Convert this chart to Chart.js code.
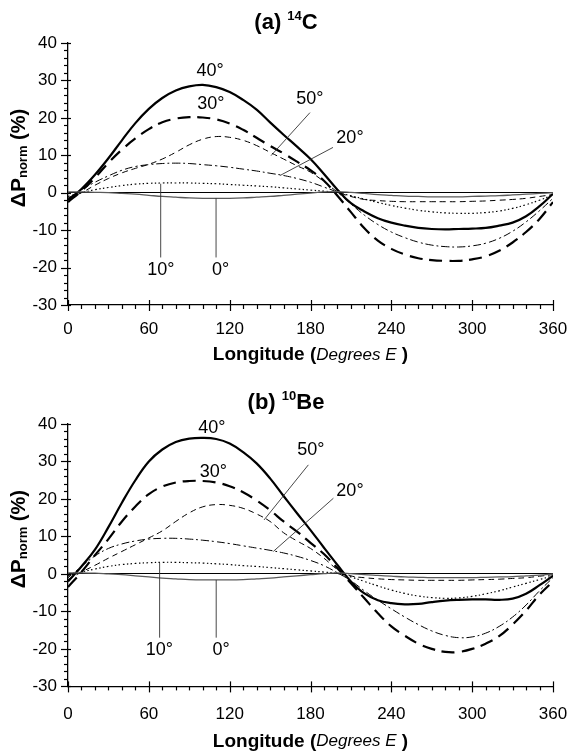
<!DOCTYPE html>
<html><head><meta charset="utf-8">
<script src="https://cdn.jsdelivr.net/npm/chart.js@4"></script>
<style>
html,body{margin:0;padding:0;background:#fff;}
#wrap{position:relative;width:568px;height:752px;overflow:hidden;}
.box{position:absolute;left:0;width:568px;height:376px;}
</style></head><body>
<div id="wrap">
<div class="box" style="top:0"><canvas id="c1"></canvas></div>
<div class="box" style="top:376px"><canvas id="c2"></canvas></div>
</div>
<script>
// ---------- DATA ----------
const lon = [0,10,20,30,40,50,60,70,80,90,100,110,120,130,140,150,160,170,180,190,200,210,220,230,240,250,260,270,280,290,300,310,320,330,340,350,360];
const xTickValues = [0,60,120,180,240,300,360];
const yTickValues = [-30,-20,-10,0,10,20,30,40];
const latLabels = ['0°','10°','20°','30°','40°','50°'];

// (a) 14C
const c14_lat0  = [0.2,0.2,0.1,0,-0.2,-0.4,-0.7,-1,-1.2,-1.4,-1.5,-1.5,-1.5,-1.4,-1.2,-1,-0.7,-0.4,-0.1,0.2,0.3,0.1,-0.2,-0.5,-0.7,-0.9,-1,-1.1,-1.1,-1.1,-1,-0.9,-0.8,-0.6,-0.4,-0.2,0];
const c14_lat10 = [-1,0,0.8,1.4,1.9,2.3,2.5,2.6,2.6,2.6,2.5,2.4,2.2,2,1.8,1.6,1.3,1,0.7,0.4,0,-0.8,-1.7,-2.6,-3.4,-4.1,-4.7,-5.1,-5.4,-5.5,-5.5,-5.3,-4.9,-4.2,-3.2,-2,-0.6];
const c14_lat20 = [-1.5,0.8,2.8,4.5,6,7,7.5,7.8,7.9,7.8,7.5,7.2,6.8,6.3,5.8,5.2,4.6,3.8,2.8,1.5,0,-3,-6,-8.5,-10.5,-12,-13.2,-14,-14.4,-14.5,-14.2,-13.5,-12.2,-10.3,-7.8,-4.8,-1.5];
const c14_lat30 = [-2.5,0.5,4,8,11.5,14.5,17,18.8,19.8,20.2,20.1,19.6,18.5,16.8,14.7,12.5,10.5,8.3,6,3.2,-0.8,-5.2,-9.5,-12.8,-15,-16.5,-17.5,-18,-18.2,-18.2,-17.8,-17,-15.5,-13.3,-10.5,-7,-2.5];
const c14_lat40 = [-2,1,4.8,9.2,14,18.6,22.4,25.3,27.3,28.4,28.8,28.2,26.9,24.8,22.2,18.8,15.5,12.3,9,5,0.8,-2.8,-5,-6.8,-8,-8.8,-9.4,-9.7,-9.8,-9.7,-9.6,-9.4,-8.8,-8,-6.3,-3.6,-0.3];
const c14_lat50 = [-1.5,0,2,3.8,5.3,6.5,7.6,9,10.8,12.8,14.3,15,14.8,14,12.6,10.8,9,7.2,5.5,3,0.3,-1,-1.8,-2.1,-2.3,-2.4,-2.4,-2.4,-2.4,-2.4,-2.3,-2.2,-2,-1.8,-1.5,-1,-0.5];

// (b) 10Be
const be10_lat0  = [0.3,0.3,0.2,0,-0.2,-0.5,-0.8,-1.1,-1.3,-1.5,-1.6,-1.6,-1.6,-1.5,-1.3,-1.1,-0.8,-0.5,-0.2,0.1,0.3,0.1,-0.2,-0.4,-0.6,-0.8,-0.9,-1,-1,-1,-1,-0.9,-0.8,-0.7,-0.5,-0.3,0];
const be10_lat10 = [-0.5,0.5,1.3,2,2.5,2.8,3,3.1,3.1,3,2.9,2.7,2.5,2.2,2,1.7,1.4,1.1,0.8,0.5,0.1,-0.8,-2,-3.2,-4.3,-5.2,-5.9,-6.3,-6.5,-6.4,-6,-5.3,-4.5,-3.5,-2.5,-1.5,-0.5];
const be10_lat20 = [-1,2,4.8,6.8,8,8.8,9.3,9.5,9.5,9.3,9,8.6,8.1,7.5,6.9,6.3,5.6,4.7,3.6,2.2,0.3,-1.8,-4.5,-7,-9.3,-11.5,-13.5,-15.2,-16.4,-17,-16.8,-15.8,-14,-11.5,-8.3,-4.5,-1];
const be10_lat30 = [-3.5,0.5,5,9.3,14,18,21.3,23.3,24.4,24.8,24.8,24.4,23.4,21.8,19.6,17,14,11.3,8.3,5.3,1.5,-2.5,-6.5,-10.5,-14,-16.5,-18.6,-20,-20.8,-20.8,-20,-18.6,-16.6,-13.5,-9.8,-5.5,-2];
const be10_lat40 = [-2,2,6.5,12.5,19,25,30,33.2,35.2,36.1,36.3,36,34.8,32.5,29.5,25.5,20.8,16.2,11.7,7,2.4,-2,-5.2,-7,-7.8,-8.1,-8,-7.5,-7.1,-6.9,-6.8,-6.8,-6.9,-6.6,-5.3,-3,-0.5];
const be10_lat50 = [-1.5,0.5,2.3,4.2,6,7.8,9.6,11.5,14,16.3,17.9,18.5,18.3,17.5,16,14,11,8.8,6.8,4.2,1.2,-0.5,-1,-1.3,-1.5,-1.6,-1.7,-1.7,-1.7,-1.7,-1.6,-1.5,-1.4,-1.2,-1,-0.6,-0.2];

// ---------- STYLES ----------
const lineStyles = [
  {color:'#5a5a5a', width:1.3, dash:[]},          // 0°
  {color:'#000', width:1.2, dash:[1.5,2.5]},      // 10°
  {color:'#000', width:1, dash:[8,3,2,3]},        // 20°
  {color:'#000', width:2.2, dash:[13,7]},         // 30°
  {color:'#000', width:2.2, dash:[]},             // 40°
  {color:'#000', width:1, dash:[6,4]}             // 50°
];

// annotation placement (data coordinates): label text anchor and leader line ends
const annotC14 = {
  text:[[113.3,-20.7],[69,-20.7],[209.3,14.5],[106.1,23.7],[105.4,32.6],[179.6,24.9]],
  leaders:[[[109.9,-1.4],[109.9,-17.3]],[[68.8,2.4],[68.8,-17.3]],[[196.7,12.1],[157.4,4.6]],null,null,[[179.6,21.4],[150.7,9.9]]]
};
const annotBe10 = {
  text:[[113.6,-20.2],[67.8,-20.2],[209.3,22.0],[107.9,27.3],[106.7,38.9],[180.2,33.1]],
  leaders:[[[110,-1.6],[110,-17.0]],[[68,3.0],[68,-17.0]],[[197,20.2],[152.4,6.0]],null,null,[[178.4,29.1],[145.5,14.4]]]
};

const FONT = '"Liberation Sans", Arial, sans-serif';

function makeChart(canvasId, series, annot, cfg) {
  const datasets = series.map((vals, i) => ({
    label: latLabels[i],
    data: lon.map((x, k) => ({x: x, y: vals[k]})),
    borderColor: lineStyles[i].color,
    borderWidth: lineStyles[i].width,
    borderDash: lineStyles[i].dash,
    pointRadius: 0,
    fill: false,
    tension: 0.4
  }));

  const decor = {
    id: 'decor_' + canvasId,
    afterDatasetsDraw(chart) {
      const ctx = chart.ctx;
      const xs = chart.scales.x, ys = chart.scales.y;
      const ca = chart.chartArea;
      ctx.save();
      ctx.strokeStyle = '#000';
      ctx.lineWidth = 1.2;
      // y ticks
      for (let v = -30; v <= 40; v += 2) {
        const py = Math.round(ys.getPixelForValue(v)) + 0.5;
        const major = (v % 10 === 0);
        ctx.beginPath();
        ctx.moveTo(ca.left - (major ? 7 : 4), py);
        ctx.lineTo(ca.left + (major ? 3 : 0), py);
        ctx.stroke();
      }
      // x ticks
      for (let v = 0; v <= 360; v += 10) {
        const px = Math.round(xs.getPixelForValue(v)) + 0.5;
        const major = (v % 60 === 0);
        ctx.beginPath();
        ctx.moveTo(px, ca.bottom - (major ? 5 : 0));
        ctx.lineTo(px, ca.bottom + (major ? 6 : 4));
        ctx.stroke();
      }
      // leader lines
      ctx.strokeStyle = '#333';
      ctx.lineWidth = 0.9;
      ctx.setLineDash([]);
      annot.leaders.forEach(l => {
        if (!l) return;
        ctx.beginPath();
        ctx.moveTo(xs.getPixelForValue(l[0][0]), ys.getPixelForValue(l[0][1]));
        ctx.lineTo(xs.getPixelForValue(l[1][0]), ys.getPixelForValue(l[1][1]));
        ctx.stroke();
      });
      // latitude labels
      ctx.fillStyle = '#000';
      ctx.font = '18px ' + FONT;
      ctx.textAlign = 'center';
      ctx.textBaseline = 'middle';
      annot.text.forEach((p, i) => {
        ctx.fillText(latLabels[i], xs.getPixelForValue(p[0]), ys.getPixelForValue(p[1]));
      });

      // chart title with superscript
      const parts = [
        {t: cfg.titlePre, f: 'bold 22px ' + FONT, dy: 0},
        {t: cfg.titleSup, f: 'bold 13px ' + FONT, dy: -7},
        {t: cfg.titlePost, f: 'bold 22px ' + FONT, dy: 0}
      ];
      drawParts(ctx, parts, 286, cfg.titleY);

      // x axis title
      const xParts = [
        {t: 'Longitude (', f: 'bold 19px ' + FONT, dy: 0},
        {t: 'Degrees E', f: 'italic 17px ' + FONT, dy: 0},
        {t: ' )', f: 'bold 19px ' + FONT, dy: 0}
      ];
      drawParts(ctx, xParts, (ca.left + ca.right) / 2, ca.bottom + cfg.xTitleOff);

      // y axis title, rotated
      ctx.save();
      ctx.translate(19, (ca.top + ca.bottom) / 2 - 16);
      ctx.rotate(-Math.PI / 2);
      const yParts = [
        {t: 'ΔP', f: 'bold 21px ' + FONT, dy: 0},
        {t: 'norm', f: 'bold 13px ' + FONT, dy: 4},
        {t: ' (%)', f: 'bold 20px ' + FONT, dy: 0}
      ];
      drawParts(ctx, yParts, 0, 0);
      ctx.restore();
      ctx.restore();
    }
  };

  return new Chart(document.getElementById(canvasId), {
    type: 'line',
    data: {datasets},
    options: {
      responsive: true,
      maintainAspectRatio: false,
      animation: false,
      devicePixelRatio: 1,
      layout: {padding: {left: 0, right: 15, top: cfg.padTop, bottom: 0}},
      plugins: {legend: {display: false}, tooltip: {enabled: false}, title: {display: false}},
      scales: {
        x: {
          type: 'linear', min: 0, max: 360,
          afterBuildTicks: s => { s.ticks = xTickValues.map(v => ({value: v})); },
          afterFit: s => { s.height = cfg.axisH; s.paddingLeft = 0; s.paddingRight = 0; },
          grid: {display: true, drawOnChartArea: false, drawTicks: false, color: 'rgba(0,0,0,0)'},
          border: {display: true, color: '#000', width: 1.3},
          ticks: {color: '#000', font: {family: FONT, size: 17}, padding: cfg.xTickPad, maxRotation: 0}
        },
        y: {
          min: -30, max: 40,
          afterBuildTicks: s => { s.ticks = yTickValues.map(v => ({value: v})); },
          afterFit: s => { s.width = 68; s.paddingTop = 0; s.paddingBottom = 0; },
          grid: {display: true, drawTicks: false, lineWidth: 1,
                 color: c => (c.tick && c.tick.value === 0) ? '#000' : 'rgba(0,0,0,0)'},
          border: {display: true, color: '#000', width: 1.3},
          ticks: {color: '#000', font: {family: FONT, size: 17}, padding: 11}
        }
      }
    },
    plugins: [decor]
  });
}

function drawParts(ctx, parts, cx, cy) {
  let total = 0;
  parts.forEach(p => { ctx.font = p.f; p.w = ctx.measureText(p.t).width; total += p.w; });
  let x = cx - total / 2;
  ctx.textAlign = 'left';
  ctx.textBaseline = 'middle';
  ctx.fillStyle = '#000';
  parts.forEach(p => { ctx.font = p.f; ctx.fillText(p.t, x, cy + p.dy); x += p.w; });
}

makeChart('c1', [c14_lat0, c14_lat10, c14_lat20, c14_lat30, c14_lat40, c14_lat50], annotC14,
  {padTop: 43, axisH: 71, xTickPad: 14, xTitleOff: 50, titleY: 23, titlePre: '(a) ', titleSup: '14', titlePost: 'C'});
makeChart('c2', [be10_lat0, be10_lat10, be10_lat20, be10_lat30, be10_lat40, be10_lat50], annotBe10,
  {padTop: 48, axisH: 65.6, xTickPad: 18, xTitleOff: 55, titleY: 27, titlePre: '(b) ', titleSup: '10', titlePost: 'Be'});
</script>
</body></html>
